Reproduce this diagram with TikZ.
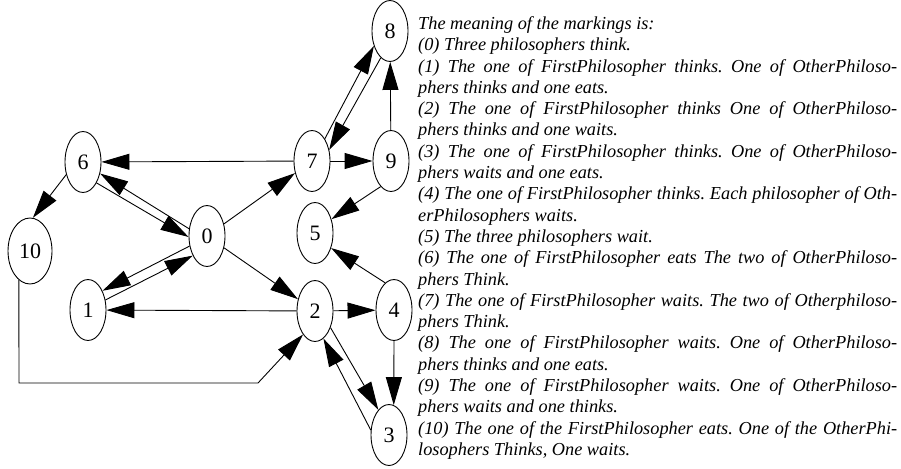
\documentclass[tikz,border=0pt]{standalone}
\usepackage{fontspec}
\setmainfont{Liberation Serif}
\usetikzlibrary{shapes.geometric,arrows.meta}
\newcommand{\tiplength}{28pt}
\newcommand{\tipwidth}{16pt}
\newcommand{\edgewidth}{0.9pt}
\frenchspacing

\begin{document}
\begin{tikzpicture}[x=1pt,y=-1pt,
    state/.style={draw,ellipse,line width=\edgewidth,minimum width=36pt,minimum height=61pt,inner sep=0pt,font=\fontsize{22}{24}\selectfont},
    edge/.style={line width=\edgewidth,-{Triangle[length=\tiplength,width=\tipwidth]}},
    legend/.style={font=\fontsize{18.3}{21.3}\selectfont\itshape,text width=479pt,align=justify,inner sep=0pt}]

    \useasboundingbox (0,0) rectangle (901,468);

%markings
    \foreach\n/\x/\y in {0/207/236,1/88/310,2/315/311,3/389/435,4/394/310,5/315/233,6/83/162,7/312/161,8/390/31,9/391/161} {
        \node[state] (m\n) at (\x,\y) {\n};
    }
    \node[state,minimum width=44pt,minimum height=66pt] (m10) at (30,251) {10};

%bends
    \coordinate (b1) at (19,383);
    \coordinate (b2) at (258,383);

%%%%        Edges
    \foreach\v/\w in {m7/m6,m7/m9,m0/m7,m0/m2,m2/m1,m2/m4,m9/m8}
    {
        \draw[edge] (\v) -- (\w);
    }
    \draw[edge] (m4.south) -- (m3.81);
    \draw[edge] (m6.217) -- (m10.85);
    \draw[edge] (m9.248) -- (m5.40);
    \draw[edge] (m4.108) -- (m5.-43);
    \draw[edge] (m10.-111) -- (b1) -- (b2) -- (m2.243);

%two ways
    \draw[edge] (m6.-57) -- (m0.183);
    \draw[edge] (m0.158) -- (m6.-34);
    \draw[edge] (m1.30) -- (m0.234);
    \draw[edge] (m0.210) -- (m1.53);
    \draw[edge] (m7.60) -- (m8.223);
    \draw[edge] (m8.251) -- (m7.33);
    \draw[edge] (m2.-47) -- (m3.113);
    \draw[edge] (m3.165) -- (m2.-73);

%%%%        Legend
    \node[legend,anchor=base west] (key) at (418,29.5) {The meaning of the markings is:\\
(0) Three philosophers think.\\
(1) The one of FirstPhilosopher thinks. One of OtherPhiloso-\linebreak phers thinks and one eats.\\
(2) The one of FirstPhilosopher thinks One of OtherPhiloso-\linebreak phers thinks and one waits.\\
(3) The one of FirstPhilosopher thinks. One of OtherPhiloso-\linebreak phers waits and one eats.\\
(4) The one of FirstPhilosopher thinks. Each philosopher of Oth-\linebreak erPhilosophers waits.\\
(5) The three philosophers wait.\\
(6) The one of FirstPhilosopher eats The two of OtherPhiloso-\linebreak phers Think.\\
(7) The one of FirstPhilosopher waits. The two of Otherphiloso-\linebreak phers Think.\\
(8) The one of FirstPhilosopher waits. One of OtherPhiloso-\linebreak phers thinks and one eats.\\
(9) The one of FirstPhilosopher waits. One of OtherPhiloso-\linebreak phers waits and one thinks.\\
(10) The one of the FirstPhilosopher eats. One of the OtherPhi-\linebreak losophers Thinks, One waits.};
\end{tikzpicture}
\end{document}
